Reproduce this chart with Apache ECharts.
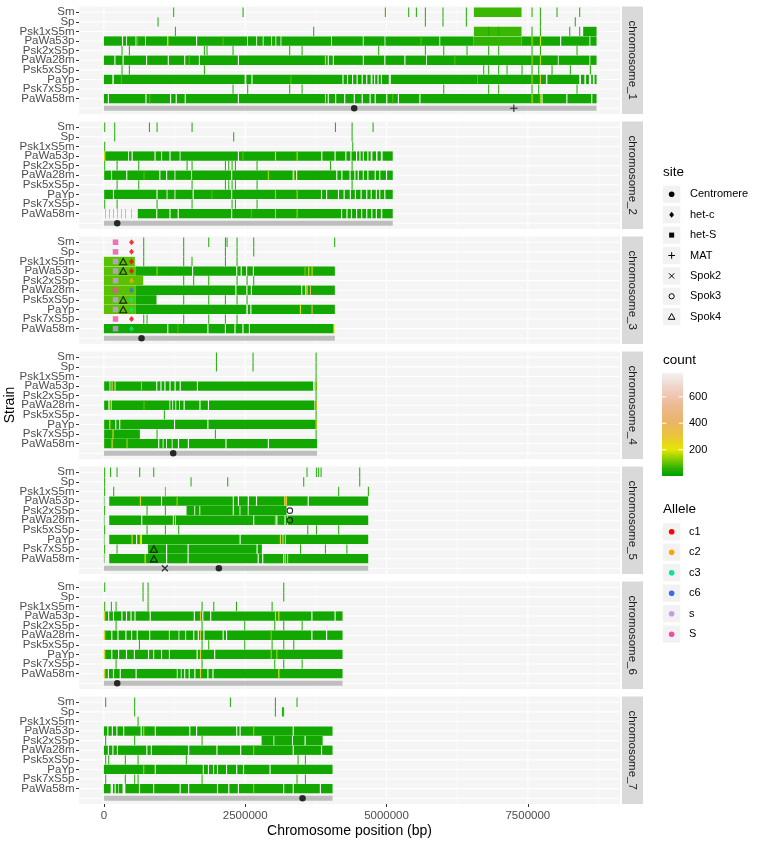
<!DOCTYPE html>
<html>
<head>
<meta charset="utf-8">
<script src="https://cdn.jsdelivr.net/npm/echarts@6/dist/echarts.min.js"></script>
<style>
  html, body { margin: 0; padding: 0; background: #fff; }
  #chart { width: 758px; height: 843px; }
</style>
</head>
<body>
<div id="chart"></div>
<script>
// rows, bottom to top; row 0 of every panel is the chromosome bar
var strains = ['PaWa58m', 'Psk7xS5p', 'PaYp', 'Psk5xS5p', 'PaWa28m', 'Psk2xS5p', 'PaWa53p', 'Psk1xS5m', 'Sp', 'Sm'];
var chromNames = ['chromosome_1', 'chromosome_2', 'chromosome_3', 'chromosome_4', 'chromosome_5', 'chromosome_6', 'chromosome_7'];
var chromLen = [8715, 5110, 4086, 3770, 4676, 4222, 4045]; // kb
var xTicks = [0, 2500000, 5000000, 7500000];
var xMinor = [1250000, 3750000, 6250000, 8750000];
var countTicks = [200, 400, 600];
var siteNames = ['Centromere', 'het-c', 'het-S', 'MAT', 'Spok2', 'Spok3', 'Spok4'];
var alleleNames = ['c1', 'c2', 'c3', 'c6', 's', 'S'];
var alleleColors = ['#FF0000', '#FFA500', '#00E890', '#3A6FE0', '#C89BE8', '#EE4FA6'];

// covered stretches per strain, kb [start, end, count?]
var chr1Blocks = [
  ['PaWa53p', [[0,320],[340,395],[410,560],[575,730],[745,1120],[1135,1630],[1650,2535],[2550,2695],[2710,2810],[2825,2960],[2975,3035],[3050,3125],[3140,4020],[4035,4580],[4595,4965],[4980,5935],[5950,6540],[6540,7390,60],[7390,8070],[8090,8590],[8605,8715]]],
  ['PaWa28m', [[0,185],[205,330],[350,745],[765,1130],[1150,1420],[1440,1680],[1700,2370],[2390,3960],[3980,4050],[4070,4580],[4600,4960],[4980,5315],[5335,5700],[5715,8030],[8045,8590],[8605,8715]]],
  ['PaYp', [[0,150],[175,2490],[2520,2610],[2630,4220],[4240,4300],[4320,4390],[4410,4470],[4490,4560],[4580,4640],[4660,4720],[4750,4780],[4800,4840],[4860,4900],[4920,5040],[5075,7820],[7845,8410],[8440,8500],[8530,8580],[8620,8650],[8680,8715]]],
  ['PaWa58m', [[0,70],[90,735],[755,1170],[1190,1270],[1290,1430],[1450,2370],[2390,3960],[3980,4090],[4110,4250],[4270,4420],[4440,4560],[4580,4700],[4720,4790],[4810,4995],[5015,5200],[5220,5580],[5600,7740],[7760,8180],[8200,8620],[8640,8715]]],
  ['Sm', [[6545,7388,70]]],
  ['Psk1xS5m', [[6545,7388,70],[8479,8715]]]
];
var chr1Lines = [
  ['Sm', [1226,2453,4970,5383,5519,5678,5990,6403,7565,7713,8007,8408]],
  ['Sp', [949,5678,5990,6403,7713,8330]],
  ['Psk1xS5m', [1256,3703,6798,6975,7565,7713,8232,8408]],
  ['Psk2xS5p', [312,442,1769,1816,2276,3278,3497,4852,5678,6003,6415,6798,6975,7565,7713,8361]],
  ['Psk5xS5p', [312,442,1769,6710,6798,6975,7123,7388,7565,7683,7919,8243,8597]],
  ['Psk7xS5p', [2276,2535,3278,3497,6003,6798,6975,7565,7683,8361]]
];
var chr1Hot = [
  ['PaWa53p',1126,140],['PaWa53p',7565,160],['PaWa53p',7713,190],['PaWa53p',590,90],['PaWa53p',2100,90],['PaWa53p',5600,90],
  ['PaWa28m',3910,260],['PaWa28m',7565,150],['PaWa28m',7713,170],['PaWa28m',1500,90],['PaWa28m',6200,90],
  ['PaYp',7565,150],['PaYp',7713,290],['PaYp',300,90],['PaYp',3300,90],['PaYp',6600,100],
  ['PaWa58m',3910,260],['PaWa58m',7565,170],['PaWa58m',7713,150],['PaWa58m',800,90],['PaWa58m',5100,90]
];

var chr2Blocks = [
  ['PaWa53p', [[5,430],[445,490],[510,895],[915,1015],[1030,1160],[1180,1340],[1355,2370],[2390,3845],[3865,4080],[4100,4270],[4290,4360],[4380,4460],[4480,4520],[4540,4580],[4600,4660],[4680,4720],[4750,4815],[4840,4900],[4930,5110]]],
  ['PaWa28m', [[5,130],[145,395],[415,980],[1000,1100],[1120,1250],[1265,1545],[1560,2250],[2270,3340],[3360,3400],[3420,4110],[4130,4200],[4220,4345],[4365,4430],[4450,4490],[4510,4580],[4600,4660],[4680,4790],[4810,4870],[4890,4990],[5010,5110]]],
  ['PaYp', [[5,160],[180,930],[950,1110],[1125,1250],[1265,1570],[1590,2250],[2270,3840],[3860,3930],[3950,4140],[4160,4240],[4260,4350],[4370,4440],[4460,4540],[4560,4640],[4660,4720],[4740,4810],[4830,4870],[4890,4960],[4980,5110]]],
  ['PaWa58m', [[28,34],[92,98],[162,168],[233,239],[310,316],[381,387],[487,493],[600,925],[945,1160],[1180,1305],[1325,2250],[2270,4195],[4215,4290],[4310,4370],[4390,4460],[4480,4550],[4570,4640],[4660,4730],[4750,4810],[4830,4900],[4925,5110]]]
];
var chr2Lines = [
  ['Sm', [6,183,797,932,1551,4087,4382,4753]],
  ['Sp', [183,2288,4382]],
  ['Psk1xS5m', [6,4394]],
  ['Psk2xS5p', [6,225,608,1463,1551,2141,2200,2259,2318,2701,3999,4382]],
  ['Psk5xS5p', [225,608,1551,2141,2200,2259,2318,2701,4382]],
  ['Psk7xS5p', [6,225,932,1551,2259,2318,2701]]
];
var chr2Hot = [
  ['PaWa53p',5,200],['PaWa53p',3026,200],['PaWa53p',3409,170],['PaWa53p',2450,90],
  ['PaWa28m',2900,160],['PaWa28m',3350,210],['PaWa28m',700,90],
  ['PaYp',3026,150],['PaYp',3409,160],['PaYp',1900,90],
  ['PaWa58m',3026,160],['PaWa58m',3409,150],['PaWa58m',2600,90]
];

var chr3Blocks = [
  ['Psk1xS5m', [[0,548,95]]],
  ['PaWa53p', [[0,560,95],[560,1560],[1580,2340],[2360,2420],[2440,2515],[2535,2635],[2655,4086]]],
  ['Psk2xS5p', [[0,696,95]]],
  ['PaWa28m', [[0,560,95],[560,2325],[2345,2520],[2540,2600],[2620,3490],[3510,3560],[3580,4086]]],
  ['Psk5xS5p', [[0,560,95],[560,931]]],
  ['PaYp', [[0,560,95],[560,2520],[2545,2590],[2610,4086]]],
  ['PaWa58m', [[0,1120],[1140,1830],[1850,2140],[2160,2310],[2330,2450],[2470,2565],[2585,4070]]]
];
var chr3Lines = [
  ['Sm', [696,1403,1846,2141,2170,2347,2642,4074]],
  ['Sp', [696,1403,2141,2347,2642]],
  ['Psk1xS5m', [696,1403,1550,2141,2347]],
  ['Psk2xS5p', [1403,1580,1846,2347,2524,2642]],
  ['Psk5xS5p', [1403,1846,2141,2347,2524]],
  ['Psk7xS5p', [696,755,1403,1846,2141,2347]]
];
var chr3Hot = [
  ['PaWa53p',931,150],['PaWa53p',3550,130],['PaWa53p',3614,200],['PaWa53p',3673,260],
  ['PaWa28m',3585,200],['PaWa28m',3644,430],
  ['PaYp',3467,200],['PaYp',3673,420],
  ['PaWa58m',4060,200],['PaWa58m',1300,90]
];

var chr4Blocks = [
  ['PaWa53p', [[5,100],[115,190],[205,925],[945,1000],[1020,1070],[1090,1160],[1180,1250],[1270,1340],[1360,1645],[1665,3700],[3730,3770]]],
  ['PaWa28m', [[5,80],[100,130],[140,1160],[1175,1210],[1225,1265],[1280,1330],[1345,1410],[1430,1690],[1710,1840],[1860,3720],[3730,3770]]],
  ['PaYp', [[5,200],[220,270],[290,1240],[1260,1830],[1850,3770]]],
  ['Psk7xS5p', [[5,637]]],
  ['PaWa58m', [[5,960],[980,1040],[1055,1100],[1115,1200],[1215,1310],[1330,1485],[1505,2150],[2170,2900],[2920,3770]]]
];
var chr4Lines = [
  ['Sm', [1982,2630,3745]],
  ['Sp', [1982,2630,3745]],
  ['Psk1xS5m', [3745]],
  ['Psk2xS5p', [3745]],
  ['Psk5xS5p', [1061,3745]],
  ['Psk7xS5p', [932,1964,3745]]
];
var chr4Hot = [
  ['PaWa53p',136,250],['PaWa53p',655,150],['PaWa53p',3740,200],
  ['PaWa28m',95,250],['PaWa28m',3745,250],['PaWa28m',700,100],
  ['PaYp',95,200],['PaYp',3745,280],
  ['Psk7xS5p',152,250],
  ['PaWa58m',136,250],['PaWa58m',400,150]
];

var chr5Blocks = [
  ['PaWa53p', [[0,10],[95,1010],[1030,2280],[2300,2370],[2390,2545],[2565,2690],[2710,3195],[3210,3605],[3625,4676]]],
  ['Psk2xS5p', [[1462,1600],[1615,1690],[1705,2280],[2300,2400],[2415,2545],[2560,3231]]],
  ['PaWa28m', [[0,10],[95,660],[680,1220],[1240,2640],[2660,3050],[3070,3195],[3215,4676]]],
  ['PaYp', [[0,10],[95,570],[590,650],[670,2400],[2420,3160],[3175,4676]]],
  ['Psk7xS5p', [[780,1100],[1120,1480],[1500,2700],[2720,2795]]],
  ['PaWa58m', [[0,10],[95,1100],[1120,1480],[1500,2720],[2740,2800],[2820,3170],[3190,4676]]]
];
var chr5Lines = [
  ['Sm', [5,110,224,625,873,3585,3750,3791,3833,4517]],
  ['Sp', [5,1533,2182,3526,4517]],
  ['Psk1xS5m', [5,165,4145,4670]],
  ['Psk2xS5p', [5,755,1079]],
  ['Psk5xS5p', [5,755,1079,1315,3598,3751,4145]],
  ['Psk7xS5p', [5,224,3470,3910,4290]]
];
var chr5Hot = [
  ['Psk1xS5m',1079,130],
  ['PaWa53p',636,250],['PaWa53p',1285,150],['PaWa53p',3190,280],['PaWa53p',3220,300],
  ['PaWa28m',1256,200],['PaWa28m',3025,150],['PaWa28m',3240,250],
  ['PaYp',489,250],['PaYp',636,200],['PaYp',3113,250],['PaYp',3201,260],
  ['PaWa58m',720,200],['PaWa58m',3201,300],['PaWa58m',3240,250]
];

var chr6Blocks = [
  ['PaWa53p', [[0,10],[15,75],[95,160],[180,310],[330,390],[410,470],[490,540],[560,810],[830,1590],[1610,1740],[1760,1880],[1900,3670],[3690,4080],[4100,4222]]],
  ['PaWa28m', [[0,10],[15,130],[150,240],[260,380],[400,480],[500,580],[600,800],[820,1150],[1165,1320],[1335,1440],[1455,1580],[1600,1660],[1680,1760],[1780,2100],[2120,2160],[2180,3670],[3690,3930],[3950,4222]]],
  ['PaYp', [[0,10],[15,130],[150,250],[270,390],[410,530],[550,780],[800,870],[890,1010],[1030,1150],[1170,1640],[1660,1950],[1970,4222]]],
  ['PaWa58m', [[0,10],[15,70],[90,160],[180,280],[300,560],[580,1290],[1305,1360],[1375,1420],[1440,1500],[1520,1600],[1620,1830],[1850,1920],[1940,4222]]]
];
var chr6Lines = [
  ['Sm', [6,684,773,3173]],
  ['Sp', [684,773,3173]],
  ['Psk1xS5m', [6,124,207,773,1728,1935,2336,2967]],
  ['Psk2xS5p', [207,1728,2483,3014,3173,3498]],
  ['Psk5xS5p', [620,1728,1846,2483,2967,3173,3350]],
  ['Psk7xS5p', [207,1728,3014,3173,3498]]
];
var chr6Hot = [
  ['PaWa53p',5,250],['PaWa53p',1699,300],['PaWa53p',3026,220],['PaWa53p',3085,200],
  ['PaWa28m',5,250],['PaWa28m',1699,300],['PaWa28m',2950,130],
  ['PaYp',5,250],['PaYp',1699,280],['PaYp',2950,150],['PaYp',3050,150],
  ['PaWa58m',5,250],['PaWa58m',1699,280],['PaWa58m',3085,200]
];

var chr7Blocks = [
  ['PaWa53p', [[0,60],[80,140],[160,220],[240,340],[360,650],[670,900],[920,1510],[1530,1630],[1650,2340],[2360,2400],[2420,3340],[3360,4045]]],
  ['Psk2xS5p', [[2790,3000],[3015,3330],[3345,3550],[3570,3870]]],
  ['PaWa28m', [[0,70],[90,150],[170,230],[250,750],[770,830],[850,1490],[1510,1990],[2010,2410],[2430,3340],[3360,3840],[3860,4045]]],
  ['PaYp', [[0,900],[920,1750],[1770,1840],[1860,1930],[1950,2000],[2020,2160],[2180,2340],[2360,2460],[2480,2930],[2950,4045]]],
  ['PaWa58m', [[0,120],[160,190],[210,250],[260,330],[380,620],[640,870],[890,1340],[1360,1490],[1510,2000],[2020,2200],[2220,2370],[2390,3170],[3190,3340],[3360,3820],[3840,4045]]]
];
var chr7Lines = [
  ['Sm', [23,536,2229,3025,3408]],
  ['Sp', [536,3025,3150,3170]],
  ['Psk1xS5m', [596]],
  ['Psk2xS5p', [23,536,1728]],
  ['Psk5xS5p', [23,77,371,596,1450,3426,3556]],
  ['Psk7xS5p', [23,371,536,596,1728,3408,3556]]
];
var chr7Hot = [
  ['PaWa53p',695,180],['PaWa53p',2640,150],
  ['PaWa28m',2640,140],
  ['PaYp',695,150],
  ['PaWa58m',2640,140]
];

// [chromosome, strain ('' = chromosome bar), position kb, site, allele]
var sites = [
  [1,'',4428,'Centromere',''], [1,'',7252,'MAT',''],
  [2,'',236,'Centromere',''],
  [3,'',666,'Centromere',''],
  [4,'',1227,'Centromere',''],
  [5,'',2034,'Centromere',''], [5,'',1079,'Spok2',''],
  [6,'',236,'Centromere',''],
  [7,'',3514,'Centromere',''],
  [5,'Psk2xS5p',3290,'Spok3',''], [5,'PaWa28m',3290,'Spok3',''],
  [5,'Psk7xS5p',884,'Spok4',''], [5,'PaWa58m',884,'Spok4',''],
  [3,'Psk1xS5m',342,'Spok4',''], [3,'PaWa53p',342,'Spok4',''], [3,'Psk5xS5p',342,'Spok4',''], [3,'PaYp',342,'Spok4',''],
  [3,'Sm',206,'het-S','S'], [3,'Sp',206,'het-S','S'], [3,'Psk1xS5m',206,'het-S','s'], [3,'PaWa53p',206,'het-S','s'],
  [3,'Psk2xS5p',206,'het-S','s'], [3,'PaWa28m',206,'het-S','S'], [3,'Psk5xS5p',206,'het-S','s'], [3,'PaYp',206,'het-S','s'],
  [3,'Psk7xS5p',206,'het-S','S'], [3,'PaWa58m',206,'het-S','s'],
  [3,'Sm',489,'het-c','c1'], [3,'Sp',489,'het-c','c1'], [3,'Psk1xS5m',489,'het-c','c1'], [3,'PaWa53p',489,'het-c','c1'],
  [3,'Psk2xS5p',489,'het-c','c2'], [3,'PaWa28m',489,'het-c','c6'], [3,'Psk5xS5p',489,'het-c','c3'], [3,'PaYp',489,'het-c','c3'],
  [3,'Psk7xS5p',489,'het-c','c1'], [3,'PaWa58m',489,'het-c','c3']
];

var allBlocks = [chr1Blocks, chr2Blocks, chr3Blocks, chr4Blocks, chr5Blocks, chr6Blocks, chr7Blocks];
var allLines = [chr1Lines, chr2Lines, chr3Lines, chr4Lines, chr5Lines, chr6Lines, chr7Lines];
var allHot = [chr1Hot, chr2Hot, chr3Hot, chr4Hot, chr5Hot, chr6Hot, chr7Hot];

// terrain-like fill scale
var countMin = 1, countMax = 780;
var countStops = [[0,'#00A000'],[60,'#2DB300'],[120,'#7ACB00'],[200,'#E6E600'],[300,'#E9C53A'],[420,'#EBB46A'],[550,'#EDBB98'],[680,'#F0D5CC'],[780,'#F2F2F2']];
function hex2rgb(h) { return [parseInt(h.substr(1,2),16), parseInt(h.substr(3,2),16), parseInt(h.substr(5,2),16)]; }
function countColor(v) {
  for (var i = 1; i < countStops.length; i++) {
    if (v <= countStops[i][0]) {
      var a = countStops[i-1], b = countStops[i];
      var t = (v - a[0]) / (b[0] - a[0]);
      var ca = hex2rgb(a[1]), cb = hex2rgb(b[1]);
      return 'rgb(' + Math.round(ca[0]+(cb[0]-ca[0])*t) + ',' + Math.round(ca[1]+(cb[1]-ca[1])*t) + ',' + Math.round(ca[2]+(cb[2]-ca[2])*t) + ')';
    }
  }
  return countStops[countStops.length-1][1];
}

function rowOf(name) { return name === '' ? 0 : strains.indexOf(name) + 1; }

var baseCount = 25, lineW = 18, hotW = 20;
function tileData(c) {
  var out = [];
  allBlocks[c].forEach(function (r) {
    r[1].forEach(function (s) { out.push([s[0]*1000, s[1]*1000, rowOf(r[0]), s[2] || baseCount]); });
  });
  allLines[c].forEach(function (r) {
    r[1].forEach(function (p) { out.push([p*1000, (p+lineW)*1000, rowOf(r[0]), baseCount + 15]); });
  });
  allHot[c].forEach(function (h) { out.push([h[1]*1000, (h[1]+hotW)*1000, rowOf(h[0]), h[2]]); });
  return out;
}

function renderTile(params, api) {
  var row = api.value(2);
  var p0 = api.coord([api.value(0), row]);
  var p1 = api.coord([api.value(1), row]);
  var h = api.size([0, 1])[1] * 0.97;
  return {
    type: 'rect',
    shape: { x: p0[0], y: p0[1] - h / 2, width: Math.max(p1[0] - p0[0], 0.4), height: h },
    style: { fill: countColor(api.value(3)) }
  };
}
function renderBar(params, api) {
  var p0 = api.coord([0, 0]);
  var p1 = api.coord([api.value(0), 0]);
  return { type: 'rect', shape: { x: p0[0], y: p0[1] - 2.4, width: p1[0] - p0[0], height: 4.8 }, style: { fill: '#BEBEBE' } };
}
function renderGridLines(params, api) {
  var cs = params.coordSys, ch = [];
  for (var r = 0; r <= 10; r++) {
    var y = api.coord([0, r])[1];
    ch.push({ type: 'line', shape: { x1: cs.x, y1: y, x2: cs.x + cs.width, y2: y }, style: { stroke: '#fff', lineWidth: 1.1 } });
  }
  xTicks.forEach(function (v) {
    var x = api.coord([v, 0])[0];
    ch.push({ type: 'line', shape: { x1: x, y1: cs.y, x2: x, y2: cs.y + cs.height }, style: { stroke: '#fff', lineWidth: 1.1 } });
  });
  xMinor.forEach(function (v) {
    var x = api.coord([v, 0])[0];
    ch.push({ type: 'line', shape: { x1: x, y1: cs.y, x2: x, y2: cs.y + cs.height }, style: { stroke: '#fff', lineWidth: 0.55 } });
  });
  return { type: 'group', children: ch };
}

var plusPath = 'path://M5,0L5,10M0,5L10,5';
var crossPath = 'path://M0,0L10,10M10,0L0,10';
function siteSymbol(site, color) {
  var hollow = { color: 'rgba(0,0,0,0)', borderColor: '#000', borderWidth: 1.1 };
  switch (site) {
    case 'Centromere': return { symbol: 'circle', symbolSize: 6.5, itemStyle: { color: color } };
    case 'het-c': return { symbol: 'diamond', symbolSize: [5, 6], itemStyle: { color: color } };
    case 'het-S': return { symbol: 'rect', symbolSize: 5.5, itemStyle: { color: color } };
    case 'MAT': return { symbol: plusPath, symbolSize: 7.5, itemStyle: hollow };
    case 'Spok2': return { symbol: crossPath, symbolSize: 6, itemStyle: hollow };
    case 'Spok3': return { symbol: 'circle', symbolSize: 5.5, itemStyle: hollow };
    case 'Spok4': return { symbol: 'triangle', symbolSize: [7, 6.5], itemStyle: hollow };
  }
}
function siteData(c) {
  return sites.filter(function (s) { return s[0] === c + 1; }).map(function (s) {
    var col = s[4] ? alleleColors[alleleNames.indexOf(s[4])] : '#000';
    var sym = siteSymbol(s[3], col);
    return { value: [s[2]*1000, rowOf(s[1])], symbol: sym.symbol, symbolSize: sym.symbolSize, itemStyle: sym.itemStyle };
  });
}

var panelLeft = 79, panelWidth = 541, panelTop0 = 6.5, panelStep = 115, panelHeight = 107.5;
var yMin = -0.6, yMax = 10.6;
var font = '"Liberation Sans", Arial, Helvetica, sans-serif';
var grids = [], xAxes = [], yAxes = [], series = [], graphics = [];
var rowTicks = [1, 2, 3, 4, 5, 6, 7, 8, 9, 10];

chromNames.forEach(function (name, c) {
  var top = panelTop0 + panelStep * c;
  var last = c === chromNames.length - 1;
  grids.push({ left: panelLeft, top: top, width: panelWidth, height: panelHeight, show: true, backgroundColor: '#F5F5F5', borderWidth: 0 });
  xAxes.push({
    gridIndex: c, type: 'value', min: -440000, max: 9130000, position: 'bottom',
    axisLine: { show: false, onZero: false }, splitLine: { show: false },
    axisTick: { show: last, customValues: xTicks, length: 3, lineStyle: { color: '#333' } },
    axisLabel: { show: last, customValues: xTicks, margin: 6, color: '#4D4D4D', fontSize: 11.5, fontFamily: font,
      showMinLabel: true, showMaxLabel: true, formatter: function (v) { return String(v); } }
  });
  yAxes.push({
    gridIndex: c, type: 'value', min: yMin, max: yMax, position: 'left',
    axisLine: { show: false, onZero: false }, splitLine: { show: false },
    axisTick: { show: true, customValues: rowTicks, length: 3, lineStyle: { color: '#333' } },
    axisLabel: { show: false }
  });
  series.push({ type: 'custom', xAxisIndex: c, yAxisIndex: c, z: 1, silent: true, renderItem: renderGridLines, data: [[0, 0]] });
  series.push({ type: 'custom', xAxisIndex: c, yAxisIndex: c, z: 2, silent: true, renderItem: renderBar, data: [[chromLen[c] * 1000]] });
  series.push({ type: 'custom', xAxisIndex: c, yAxisIndex: c, z: 3, silent: true, renderItem: renderTile, data: tileData(c) });
  series.push({ type: 'scatter', xAxisIndex: c, yAxisIndex: c, z: 4, silent: true, data: siteData(c) });
  // strain labels (every row of the facet)
  rowTicks.forEach(function (r) {
    var y = top + (yMax - r) / (yMax - yMin) * panelHeight;
    graphics.push({ type: 'text', x: 74.5, y: y, style: { text: strains[r - 1], fill: '#4D4D4D', font: '11.5px ' + font, align: 'right', verticalAlign: 'middle' } });
  });
  // facet strip
  graphics.push({ type: 'rect', shape: { x: 622, y: top, width: 21, height: panelHeight }, style: { fill: '#D9D9D9' } });
  graphics.push({ type: 'text', x: 632.5, y: top + panelHeight / 2, rotation: -Math.PI / 2,
    style: { text: name, fill: '#1A1A1A', font: '11.5px ' + font, align: 'center', verticalAlign: 'middle' } });
});

// axis titles
graphics.push({ type: 'text', x: 349.5, y: 831, style: { text: 'Chromosome position (bp)', fill: '#000', font: '14px ' + font, align: 'center', verticalAlign: 'middle' } });
graphics.push({ type: 'text', x: 10, y: 405, rotation: Math.PI / 2, style: { text: 'Strain', fill: '#000', font: '14px ' + font, align: 'center', verticalAlign: 'middle' } });

// site legend
var keyX = 663, keySize = 17.3, keyStep = 20.4;
graphics.push({ type: 'text', x: keyX, y: 172.5, style: { text: 'site', fill: '#000', font: '13.5px ' + font, align: 'left', verticalAlign: 'middle' } });
siteNames.forEach(function (s, i) {
  var cy = 194.3 + keyStep * i;
  graphics.push({ type: 'rect', shape: { x: keyX, y: cy - keySize / 2, width: keySize, height: keySize }, style: { fill: '#F2F2F2' } });
  graphics.push({ type: 'text', x: 690, y: cy, style: { text: s, fill: '#000', font: '11px ' + font, align: 'left', verticalAlign: 'middle' } });
});

// count colourbar
var cbX = 662, cbTop = 373, cbBottom = 476, cbW = 21;
function cbY(v) { return cbBottom - (v - countMin) / (countMax - countMin) * (cbBottom - cbTop); }
graphics.push({ type: 'text', x: keyX, y: 360, style: { text: 'count', fill: '#000', font: '13.5px ' + font, align: 'left', verticalAlign: 'middle' } });
graphics.push({ type: 'rect', shape: { x: cbX, y: cbTop, width: cbW, height: cbBottom - cbTop },
  style: { fill: new echarts.graphic.LinearGradient(0, 1, 0, 0, countStops.map(function (s) {
    return { offset: Math.max(0, (s[0] - countMin) / (countMax - countMin)), color: s[1] };
  })) } });
countTicks.forEach(function (v) {
  var y = cbY(v);
  graphics.push({ type: 'line', shape: { x1: cbX, y1: y, x2: cbX + 4.3, y2: y }, style: { stroke: '#fff', lineWidth: 1 } });
  graphics.push({ type: 'line', shape: { x1: cbX + cbW - 4.3, y1: y, x2: cbX + cbW, y2: y }, style: { stroke: '#fff', lineWidth: 1 } });
  graphics.push({ type: 'text', x: 689, y: y, style: { text: String(v), fill: '#000', font: '11px ' + font, align: 'left', verticalAlign: 'middle' } });
});

// allele legend
graphics.push({ type: 'text', x: keyX, y: 509, style: { text: 'Allele', fill: '#000', font: '13.5px ' + font, align: 'left', verticalAlign: 'middle' } });
alleleNames.forEach(function (a, i) {
  var cy = 531.7 + 20.5 * i;
  graphics.push({ type: 'rect', shape: { x: keyX, y: cy - keySize / 2, width: keySize, height: keySize }, style: { fill: '#F2F2F2' } });
  graphics.push({ type: 'circle', shape: { cx: keyX + keySize / 2, cy: cy, r: 2.8 }, style: { fill: alleleColors[i] } });
  graphics.push({ type: 'text', x: 689, y: cy, style: { text: a, fill: '#000', font: '11px ' + font, align: 'left', verticalAlign: 'middle' } });
});

// site key symbols
siteNames.forEach(function (s, i) {
  var cy = 194.3 + keyStep * i, cx = keyX + keySize / 2;
  var blk = { stroke: '#000', lineWidth: 1 };
  switch (s) {
    case 'Centromere': graphics.push({ type: 'circle', shape: { cx: cx, cy: cy, r: 2.8 }, style: { fill: '#000' } }); break;
    case 'het-c': graphics.push({ type: 'polygon', shape: { points: [[cx, cy - 3], [cx + 2.4, cy], [cx, cy + 3], [cx - 2.4, cy]] }, style: { fill: '#000' } }); break;
    case 'het-S': graphics.push({ type: 'rect', shape: { x: cx - 2.5, y: cy - 2.5, width: 5, height: 5 }, style: { fill: '#000' } }); break;
    case 'MAT':
      graphics.push({ type: 'polyline', shape: { points: [[cx - 3.3, cy], [cx + 3.3, cy]] }, style: blk });
      graphics.push({ type: 'polyline', shape: { points: [[cx, cy - 3.3], [cx, cy + 3.3]] }, style: blk });
      break;
    case 'Spok2':
      graphics.push({ type: 'polyline', shape: { points: [[cx - 2.6, cy - 2.6], [cx + 2.6, cy + 2.6]] }, style: blk });
      graphics.push({ type: 'polyline', shape: { points: [[cx + 2.6, cy - 2.6], [cx - 2.6, cy + 2.6]] }, style: blk });
      break;
    case 'Spok3': graphics.push({ type: 'circle', shape: { cx: cx, cy: cy, r: 2.6 }, style: { fill: 'none', stroke: '#000', lineWidth: 1 } }); break;
    case 'Spok4': graphics.push({ type: 'polygon', shape: { points: [[cx, cy - 3.2], [cx + 3.3, cy + 2.6], [cx - 3.3, cy + 2.6]] }, style: { fill: 'none', stroke: '#000', lineWidth: 1 } }); break;
  }
});

var chart = echarts.init(document.getElementById('chart'));
chart.setOption({
  animation: false,
  backgroundColor: '#fff',
  grid: grids,
  xAxis: xAxes,
  yAxis: yAxes,
  series: series,
  graphic: { elements: graphics }
});
</script>
</body>
</html>
